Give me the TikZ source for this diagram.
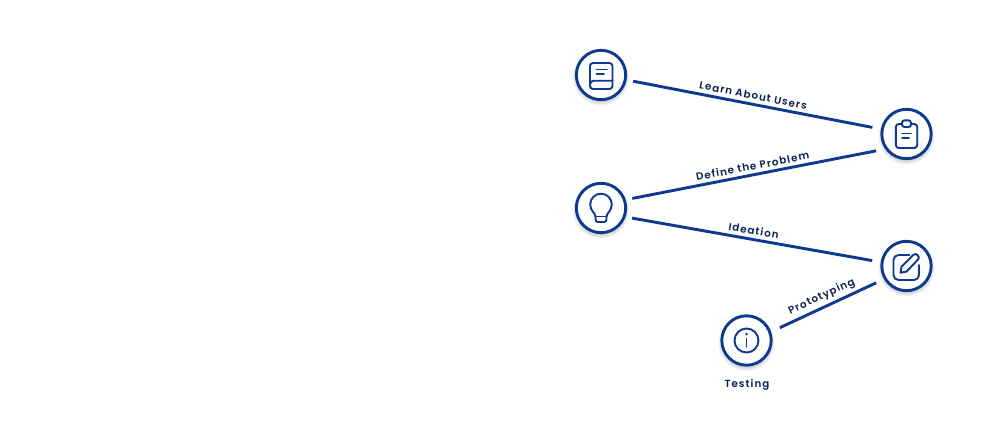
\documentclass[tikz,border=0pt]{standalone}
\usepackage{fontspec}
\setmainfont{Poppins}[UprightFont=* SemiBold,LetterSpace=10]
\definecolor{ringblue}{HTML}{0B3A8F}
\definecolor{inkblue}{HTML}{0C1F55}
\tikzset{
  hub/.style={circle,draw=ringblue,fill=white,line width=2.9pt,minimum size=49.4pt,outer sep=8pt,inner sep=0pt},
  hubfar/.style={hub,outer sep=10pt},
  halo/.style={fill=black,opacity=0.03},
  link/.style={draw=ringblue,line width=2.9pt},
  lab/.style={font=\fontsize{10.3}{12}\selectfont,text=inkblue,inner sep=3.4pt},
  ico/.style={draw=ringblue,line width=1.9pt,line cap=round,line join=round}
}
\newcommand{\softshadow}[1]{%
  \foreach \rr in {25,25.8,26.6,27.4,28.2}{\fill[halo] ([yshift=-2.5pt]#1) circle (\rr pt);}}
\begin{document}
\begin{tikzpicture}[x=1pt,y=-1pt]
\useasboundingbox (0,0) rectangle (985,424);
\fill[white] (0,0) rectangle (985,424);
\coordinate (pa) at (601,75);
\coordinate (pb) at (906.5,134);
\coordinate (pc) at (601,208);
\coordinate (pd) at (906.5,266);
\coordinate (pe) at (746.5,340.5);
\softshadow{pa}\softshadow{pb}\softshadow{pc}\softshadow{pd}\softshadow{pe}
\node[hub] (a) at (pa) {};
\node[hubfar] (b) at (pb) {};
\node[hub] (c) at (pc) {};
\node[hubfar] (d) at (pd) {};
\node[hubfar,outer sep=11pt] (e) at (pe) {};
\draw[link] (a) -- node[lab,sloped,above,pos=0.495] {Learn About Users} (b);
\draw[link] (c.17) -- node[lab,sloped,above,pos=0.5] {Define the Problem} (b.209);
\draw[link] (c.-18) -- node[lab,sloped,above,pos=0.5] {Ideation} (d.171);
\draw[link] (e.21.5) -- node[lab,sloped,above,pos=0.48] {Prototyping} (d.209);
\node[lab] (t) at (747,385) {Testing};
% book
\begin{scope}[shift={(a.center)}]
\draw[ico,rounded corners=3pt] (-11,-12) rectangle (11.5,14);
\draw[ico] (-11,9.5) .. controls (-11,7) and (-9,5.7) .. (-7,5.7) -- (11.5,5.7);
\draw[ico] (-4.5,-5.5) -- (6,-5.5);
\draw[ico] (-4.5,-1) -- (3,-1);
\end{scope}
% clipboard
\begin{scope}[shift={(b.center)}]
\draw[ico,rounded corners=3pt] (-4.5,-10) -- (-10.7,-10) -- (-10.7,14) -- (10.7,14) -- (10.7,-10) -- (4.5,-10);
\draw[ico,rounded corners=2.5pt] (-4.5,-7) -- (4.5,-7) -- (4.5,-13.7) -- (-4.5,-13.7) -- cycle;
\draw[ico] (-4.5,-0.5) -- (4.5,-0.5);
\draw[ico] (-4.5,4) -- (2.5,4);
\end{scope}
% bulb
\begin{scope}[shift={(c.center)}]
\draw[ico] (-5.5,8.5) .. controls (-5.5,5) and (-10.8,3) .. (-10.8,-3.5) arc (180:360:10.8) .. controls (10.8,3) and (5.5,5) .. (5.5,8.5);
\draw[ico,rounded corners=2.5pt] (-5.5,8.5) -- (-5.5,14) -- (5.5,14) -- (5.5,8.5);
\draw[ico] (-5.5,8.5) -- (5.5,8.5);
\end{scope}
% edit
\begin{scope}[shift={(d.center)}]
\draw[ico,rounded corners=5pt] (3,-11) -- (-13,-11) -- (-13,14) -- (12.5,14) -- (12.5,-1);
\draw[ico] (-6,6.7) -- (-5,0.7) -- (6.7,-11) .. controls (8.5,-12.7) and (10,-12) .. (11,-11) .. controls (12.5,-9.5) and (13,-8) .. (11.5,-6.5) -- (0,5.6) -- cycle;
\end{scope}
% info
\begin{scope}[shift={(e.center)}]
\draw[ico] (0,0) circle (12);
\draw[ico] (0,-2) -- (0,6.5);
\fill[ringblue] (0,-6.5) circle (1.4);
\end{scope}
\end{tikzpicture}
\end{document}
